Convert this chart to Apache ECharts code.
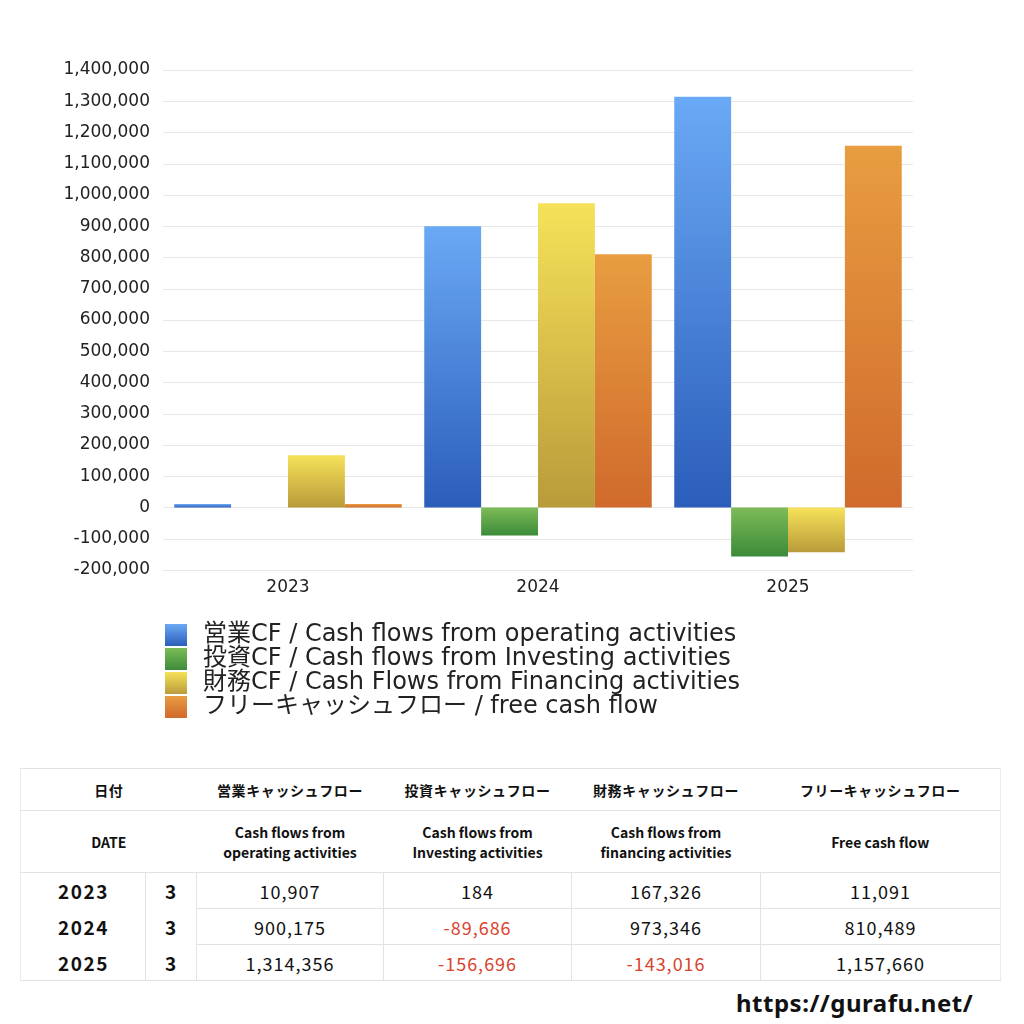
<!DOCTYPE html>
<html>
<head>
<meta charset="utf-8">
<script src="https://cdn.jsdelivr.net/npm/echarts@6/dist/echarts.min.js"></script>
<style>
  html, body { margin: 0; padding: 0; background: #fff; }
  body { width: 1024px; height: 1024px; position: relative; overflow: hidden;
         font-family: "Noto Sans CJK JP", "Noto Sans", sans-serif; }
  #chart { position: absolute; left: 0; top: 0; width: 1024px; height: 760px; }
  #tbl { position: absolute; left: 20px; top: 768px; border-collapse: collapse;
         table-layout: fixed; width: 980px; color: #111; }
  #tbl td { padding: 0; text-align: center; }
  #tbl tr.h1 td { height: 41px; font-size: 14px; font-weight: bold; letter-spacing: 0.6px;
                  border-top: 1px solid #e3e3e3; border-bottom: 1px solid #e3e3e3; }
  #tbl tr.h2 td { height: 61px; font-size: 14px; font-weight: 600; line-height: 20px;
                  border-bottom: 1px solid #e3e3e3; }
  #tbl tr.d td { height: 35px; font-size: 18px; letter-spacing: 1px; border-left: 1px solid #e3e3e3; }
  #tbl tr.d td.yr { font-weight: bold; font-size: 19px; letter-spacing: 1.5px; text-align: left;
                    padding-left: 37px; border-left: none; }
  #tbl tr.d td.q { font-weight: bold; font-size: 19px; }
  #tbl tr.d td.v { border-bottom: 1px solid #e3e3e3; }
  #tbl tr.d td.neg { color: #d8442e; }
  #tbl { border-left: 1px solid #ececec; border-right: 1px solid #ececec; border-bottom: 1px solid #e3e3e3; }
  #url { position: absolute; left: 736px; top: 986px; font-size: 24px; font-weight: bold;
         letter-spacing: 0.5px; color: #111; font-family: "Noto Sans", sans-serif; }
</style>
</head>
<body>
<div id="chart"></div>
<table id="tbl"></table>
<div id="url">https://gurafu.net/</div>
<script>
// 年度
var years = ['2023', '2024', '2025'];
var months = ['3', '3', '3'];
// 営業CF / 投資CF / 財務CF / フリーCF
var operating = [10907, 900175, 1314356];
var investing = [184, -89686, -156696];
var financing = [167326, 973346, -143016];
var freeCash = [11091, 810489, 1157660];

var seriesNames = [
  '営業CF / Cash flows from operating activities',
  '投資CF / Cash flows from Investing activities',
  '財務CF / Cash Flows from Financing activities',
  'フリーキャッシュフロー / free cash flow'
];
var headJa = ['営業キャッシュフロー', '投資キャッシュフロー', '財務キャッシュフロー', 'フリーキャッシュフロー'];
var headEn = ['Cash flows from<br>operating activities', 'Cash flows from<br>Investing activities',
              'Cash flows from<br>financing activities', 'Free cash flow'];

function grad(top, bottom) {
  return new echarts.graphic.LinearGradient(0, 0, 0, 1, [
    { offset: 0, color: top }, { offset: 1, color: bottom }
  ]);
}
var colors = [
  grad('#6aa9f5', '#2b5dba'),
  grad('#7dbb57', '#3c8b3a'),
  grad('#f6e259', '#b99b3a'),
  grad('#e89d40', '#d06a2c')
];
var allData = [operating, investing, financing, freeCash];
var chartFont = '"DejaVu Sans", "Noto Sans CJK JP", sans-serif';

var chart = echarts.init(document.getElementById('chart'));
chart.setOption({
  animation: false,
  textStyle: { fontFamily: chartFont },
  grid: { left: 163, right: 111, top: 70, height: 500 },
  legend: {
    orient: 'vertical', left: 165, top: 623, padding: 0,
    itemWidth: 22, itemHeight: 22, itemGap: 0,
    icon: 'rect',
    textStyle: { fontSize: 24, fontFamily: chartFont, color: '#222', lineHeight: 24, padding: [0, 0, 0, 11] },
    data: seriesNames
  },
  xAxis: {
    type: 'category', data: years,
    axisLine: { show: false }, axisTick: { show: false },
    axisLabel: { fontSize: 17, color: '#222', margin: 9 }
  },
  yAxis: {
    type: 'value', min: -200000, max: 1400000, interval: 100000,
    axisLabel: {
      fontSize: 17, color: '#222', margin: 13, padding: [5, 0, 0, 0],
      formatter: function (v) { return v.toLocaleString('en-US'); }
    },
    splitLine: { lineStyle: { color: '#e8e8e8' } }
  },
  series: allData.map(function (d, i) {
    return {
      name: seriesNames[i], type: 'bar', data: d,
      barGap: '0%', barCategoryGap: '9%',
      itemStyle: { color: colors[i] }
    };
  })
});

// table
var fmt = function (v) { return v.toLocaleString('en-US'); };
var html = '<colgroup><col style="width:125px"><col style="width:51px"><col style="width:187px">' +
           '<col style="width:188px"><col style="width:189px"><col style="width:240px"></colgroup>';
html += '<tr class="h1"><td colspan="2">日付</td>' + headJa.map(function (h) { return '<td>' + h + '</td>'; }).join('') + '</tr>';
html += '<tr class="h2"><td colspan="2">DATE</td>' + headEn.map(function (h) { return '<td>' + h + '</td>'; }).join('') + '</tr>';
years.forEach(function (y, r) {
  html += '<tr class="d"><td class="yr">' + y + '</td><td class="q">' + months[r] + '</td>';
  allData.forEach(function (d) {
    var v = d[r];
    html += '<td class="v' + (v < 0 ? ' neg' : '') + '">' + fmt(v) + '</td>';
  });
  html += '</tr>';
});
document.getElementById('tbl').innerHTML = html;
</script>
</body>
</html>
